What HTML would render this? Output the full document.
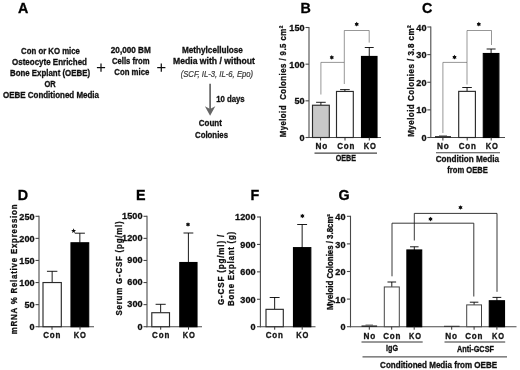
<!DOCTYPE html>
<html><head><meta charset="utf-8"><title>Figure</title>
<style>
html,body{margin:0;padding:0;background:#fff;}
body{width:520px;height:370px;overflow:hidden;font-family:"Liberation Sans",sans-serif;}
svg{display:block;}
svg text{font-family:"Liberation Sans",sans-serif;}
</style></head>
<body>
<svg width="520" height="370" viewBox="0 0 520 370">
<defs><filter id="soft" x="0" y="0" width="520" height="370" filterUnits="userSpaceOnUse"><feGaussianBlur stdDeviation="0.3"/></filter></defs>
<rect x="0" y="0" width="520" height="370" fill="#ffffff"/>
<g filter="url(#soft)">
<rect x="0" y="0" width="520" height="370" fill="#ffffff"/>
<text x="18.1" y="12.6" font-size="14.3" text-anchor="start" fill="#000" font-weight="bold" stroke="#000" stroke-width="0.3" >A</text>
<text x="300.5" y="12.6" font-size="14.3" text-anchor="start" fill="#000" font-weight="bold" stroke="#000" stroke-width="0.3" >B</text>
<text x="422.1" y="12.6" font-size="14.3" text-anchor="start" fill="#000" font-weight="bold" stroke="#000" stroke-width="0.3" >C</text>
<text x="17.8" y="200" font-size="14.3" text-anchor="start" fill="#000" font-weight="bold" stroke="#000" stroke-width="0.3" >D</text>
<text x="135.9" y="200" font-size="14.3" text-anchor="start" fill="#000" font-weight="bold" stroke="#000" stroke-width="0.3" >E</text>
<text x="250.4" y="200" font-size="14.3" text-anchor="start" fill="#000" font-weight="bold" stroke="#000" stroke-width="0.3" >F</text>
<text x="338.6" y="200" font-size="14.3" text-anchor="start" fill="#000" font-weight="bold" stroke="#000" stroke-width="0.3" >G</text>
<text x="50.5" y="54.2" font-size="8.4" text-anchor="middle" fill="#111" font-weight="bold" stroke="#111" stroke-width="0.3" textLength="58.8" lengthAdjust="spacingAndGlyphs" >Con or KO mice</text>
<text x="49.5" y="65.2" font-size="8.4" text-anchor="middle" fill="#111" font-weight="bold" stroke="#111" stroke-width="0.3" textLength="75" lengthAdjust="spacingAndGlyphs" >Osteocyte Enriched</text>
<text x="50" y="76.2" font-size="8.4" text-anchor="middle" fill="#111" font-weight="bold" stroke="#111" stroke-width="0.3" textLength="80" lengthAdjust="spacingAndGlyphs" >Bone Explant (OEBE)</text>
<text x="50.1" y="87.2" font-size="8.4" text-anchor="middle" fill="#111" font-weight="bold" stroke="#111" stroke-width="0.3" textLength="11.2" lengthAdjust="spacingAndGlyphs" >OR</text>
<text x="51" y="98.4" font-size="8.4" text-anchor="middle" fill="#111" font-weight="bold" stroke="#111" stroke-width="0.3" textLength="96" lengthAdjust="spacingAndGlyphs" >OEBE Conditioned Media</text>
<line x1="96.9" y1="67.6" x2="105.1" y2="67.6" stroke="#111" stroke-width="1.25" />
<line x1="101.0" y1="63.4" x2="101.0" y2="71.8" stroke="#111" stroke-width="1.25" />
<line x1="157.20000000000002" y1="67.6" x2="165.4" y2="67.6" stroke="#111" stroke-width="1.25" />
<line x1="161.3" y1="63.4" x2="161.3" y2="71.8" stroke="#111" stroke-width="1.25" />
<text x="130.8" y="52.8" font-size="8.4" text-anchor="middle" fill="#111" font-weight="bold" stroke="#111" stroke-width="0.3" textLength="40" lengthAdjust="spacingAndGlyphs" >20,000 BM</text>
<text x="130.8" y="63.8" font-size="8.4" text-anchor="middle" fill="#111" font-weight="bold" stroke="#111" stroke-width="0.3" textLength="37.5" lengthAdjust="spacingAndGlyphs" >Cells from</text>
<text x="131.8" y="74.8" font-size="8.4" text-anchor="middle" fill="#111" font-weight="bold" stroke="#111" stroke-width="0.3" textLength="35" lengthAdjust="spacingAndGlyphs" >Con mice</text>
<text x="212.4" y="53.2" font-size="8.4" text-anchor="middle" fill="#111" font-weight="bold" stroke="#111" stroke-width="0.3" textLength="61" lengthAdjust="spacingAndGlyphs" >Methylcellulose</text>
<text x="214" y="63.8" font-size="8.4" text-anchor="middle" fill="#111" font-weight="bold" stroke="#111" stroke-width="0.3" textLength="82" lengthAdjust="spacingAndGlyphs" >Media with / without</text>
<text x="216.9" y="76.8" font-size="8.3" text-anchor="middle" fill="#3a3a3a" font-style="italic" textLength="72.5" lengthAdjust="spacingAndGlyphs" stroke="#3a3a3a" stroke-width="0.22">(SCF, IL-3, IL-6, Epo)</text>
<line x1="210.1" y1="83.7" x2="210.1" y2="109" stroke="#666" stroke-width="1.7" />
<path d="M204.9 106.2 L210.1 108.9 L215.3 106.2 L210.1 115.7 Z" fill="#666"/>
<text x="216.2" y="101.8" font-size="8.4" text-anchor="start" fill="#111" font-weight="bold" stroke="#111" stroke-width="0.3" textLength="28.5" lengthAdjust="spacingAndGlyphs" >10 days</text>
<text x="210.3" y="126.4" font-size="8.4" text-anchor="middle" fill="#111" font-weight="bold" stroke="#111" stroke-width="0.3" textLength="23" lengthAdjust="spacingAndGlyphs" >Count</text>
<text x="211.5" y="137.8" font-size="8.4" text-anchor="middle" fill="#111" font-weight="bold" stroke="#111" stroke-width="0.3" textLength="33" lengthAdjust="spacingAndGlyphs" >Colonies</text>
<line x1="309" y1="27.0" x2="309" y2="138.0" stroke="#4a4a4a" stroke-width="1.1" />
<line x1="308.5" y1="137.5" x2="381" y2="137.5" stroke="#4a4a4a" stroke-width="1.1" />
<line x1="305.5" y1="137.5" x2="309" y2="137.5" stroke="#4a4a4a" stroke-width="1.1" />
<text x="304.8" y="141.1" font-size="9.1" text-anchor="end" fill="#111" font-weight="bold" stroke="#111" stroke-width="0.3" letter-spacing="0.15">0</text>
<line x1="305.5" y1="100.83333333333334" x2="309" y2="100.83333333333334" stroke="#4a4a4a" stroke-width="1.1" />
<text x="304.8" y="104.43333333333334" font-size="9.1" text-anchor="end" fill="#111" font-weight="bold" stroke="#111" stroke-width="0.3" letter-spacing="0.15">50</text>
<line x1="305.5" y1="64.16666666666667" x2="309" y2="64.16666666666667" stroke="#4a4a4a" stroke-width="1.1" />
<text x="304.8" y="67.76666666666667" font-size="9.1" text-anchor="end" fill="#111" font-weight="bold" stroke="#111" stroke-width="0.3" letter-spacing="0.15">100</text>
<line x1="305.5" y1="27.5" x2="309" y2="27.5" stroke="#4a4a4a" stroke-width="1.1" />
<text x="304.8" y="31.1" font-size="9.1" text-anchor="end" fill="#111" font-weight="bold" stroke="#111" stroke-width="0.3" letter-spacing="0.15">150</text>
<line x1="320.9" y1="102.3" x2="320.9" y2="105.23333333333333" stroke="#000" stroke-width="0.9" />
<line x1="316.094" y1="102.3" x2="325.70599999999996" y2="102.3" stroke="#000" stroke-width="0.9" />
<rect x="312.5" y="105.23333333333333" width="16.80000000000001" height="32.266666666666666" fill="#c8c8c8" stroke="#2a2a2a" stroke-width="1.15"/>
<line x1="344.9" y1="89.6" x2="344.9" y2="91.44666666666666" stroke="#000" stroke-width="0.9" />
<line x1="340.094" y1="89.6" x2="349.70599999999996" y2="89.6" stroke="#000" stroke-width="0.9" />
<rect x="336.5" y="91.44666666666666" width="16.80000000000001" height="46.05333333333334" fill="#fff" stroke="#2a2a2a" stroke-width="1.15"/>
<line x1="369.25" y1="47.5" x2="369.25" y2="56.46666666666667" stroke="#000" stroke-width="0.9" />
<line x1="364.795" y1="47.5" x2="373.705" y2="47.5" stroke="#000" stroke-width="0.9" />
<rect x="361.5" y="56.46666666666667" width="15.5" height="81.03333333333333" fill="#000" stroke="#000" stroke-width="1.15"/>
<line x1="320.6" y1="137.5" x2="320.6" y2="140.5" stroke="#333" stroke-width="1" />
<line x1="345" y1="137.5" x2="345" y2="140.5" stroke="#333" stroke-width="1" />
<line x1="369.3" y1="137.5" x2="369.3" y2="140.5" stroke="#333" stroke-width="1" />
<path d="M320.9 94.5 V62.4 H344.3 V84 M344.3 62.4 V30.5 H369.2 V42.6" fill="none" stroke="#505050" stroke-width="0.6"/>
<polygon points="331.80,55.05 331.07,56.14 329.76,56.22 330.35,57.40 329.76,58.57 331.07,58.66 331.80,59.75 332.53,58.66 333.84,58.58 333.25,57.40 333.84,56.23 332.53,56.14" fill="#111"/>
<polygon points="356.70,21.85 355.97,22.94 354.66,23.02 355.25,24.20 354.66,25.38 355.97,25.46 356.70,26.55 357.43,25.46 358.74,25.38 358.15,24.20 358.74,23.02 357.43,22.94" fill="#111"/>
<text x="321.8" y="149" font-size="8.4" text-anchor="middle" fill="#111" font-weight="bold" stroke="#111" stroke-width="0.3" textLength="12.7" lengthAdjust="spacingAndGlyphs" letter-spacing="0.9">No</text>
<text x="346.3" y="149" font-size="8.4" text-anchor="middle" fill="#111" font-weight="bold" stroke="#111" stroke-width="0.3" textLength="18.1" lengthAdjust="spacingAndGlyphs" letter-spacing="0.9">Con</text>
<text x="370.3" y="149" font-size="8.4" text-anchor="middle" fill="#111" font-weight="bold" stroke="#111" stroke-width="0.3" textLength="12.9" lengthAdjust="spacingAndGlyphs" letter-spacing="0.9">KO</text>
<line x1="314.5" y1="153.1" x2="377" y2="153.1" stroke="#444" stroke-width="1.1" />
<text x="345.8" y="161.1" font-size="8.8" text-anchor="middle" fill="#111" font-weight="bold" stroke="#111" stroke-width="0.3" textLength="20.3" lengthAdjust="spacingAndGlyphs" >OEBE</text>
<text x="286.2" y="81.3" font-size="9" text-anchor="middle" fill="#111" font-weight="bold" stroke="#111" stroke-width="0.3" textLength="112" lengthAdjust="spacingAndGlyphs" transform="rotate(-90 286.2 81.3)" letter-spacing="0.5" xml:space="preserve">Myeloid  Colonies / 9.5 cm²</text>
<line x1="430.8" y1="26.5" x2="430.8" y2="138.0" stroke="#4a4a4a" stroke-width="1.1" />
<line x1="430.3" y1="137.5" x2="505" y2="137.5" stroke="#4a4a4a" stroke-width="1.1" />
<line x1="427.3" y1="137.5" x2="430.8" y2="137.5" stroke="#4a4a4a" stroke-width="1.1" />
<text x="426.6" y="141.1" font-size="9.1" text-anchor="end" fill="#111" font-weight="bold" stroke="#111" stroke-width="0.3" letter-spacing="0.15">0</text>
<line x1="427.3" y1="109.875" x2="430.8" y2="109.875" stroke="#4a4a4a" stroke-width="1.1" />
<text x="426.6" y="113.475" font-size="9.1" text-anchor="end" fill="#111" font-weight="bold" stroke="#111" stroke-width="0.3" letter-spacing="0.15">10</text>
<line x1="427.3" y1="82.25" x2="430.8" y2="82.25" stroke="#4a4a4a" stroke-width="1.1" />
<text x="426.6" y="85.85" font-size="9.1" text-anchor="end" fill="#111" font-weight="bold" stroke="#111" stroke-width="0.3" letter-spacing="0.15">20</text>
<line x1="427.3" y1="54.625" x2="430.8" y2="54.625" stroke="#4a4a4a" stroke-width="1.1" />
<text x="426.6" y="58.225" font-size="9.1" text-anchor="end" fill="#111" font-weight="bold" stroke="#111" stroke-width="0.3" letter-spacing="0.15">30</text>
<line x1="427.3" y1="27.0" x2="430.8" y2="27.0" stroke="#4a4a4a" stroke-width="1.1" />
<text x="426.6" y="30.6" font-size="9.1" text-anchor="end" fill="#111" font-weight="bold" stroke="#111" stroke-width="0.3" letter-spacing="0.15">40</text>
<rect x="435" y="136.2" width="16" height="1.3" fill="#111"/>
<line x1="439" y1="135.8" x2="447" y2="135.8" stroke="#333" stroke-width="0.7" />
<line x1="467.04999999999995" y1="87.5" x2="467.04999999999995" y2="91.36625000000001" stroke="#000" stroke-width="0.9" />
<line x1="462.27099999999996" y1="87.5" x2="471.82899999999995" y2="87.5" stroke="#000" stroke-width="0.9" />
<rect x="458.7" y="91.36625000000001" width="16.69999999999999" height="46.13374999999999" fill="#fff" stroke="#2a2a2a" stroke-width="1.15"/>
<line x1="491.1" y1="49" x2="491.1" y2="53.52000000000001" stroke="#000" stroke-width="0.9" />
<line x1="486.61800000000005" y1="49" x2="495.582" y2="49" stroke="#000" stroke-width="0.9" />
<rect x="483.3" y="53.52000000000001" width="15.599999999999966" height="83.97999999999999" fill="#000" stroke="#000" stroke-width="1.15"/>
<line x1="442.9" y1="137.5" x2="442.9" y2="140.5" stroke="#333" stroke-width="1" />
<line x1="467.2" y1="137.5" x2="467.2" y2="140.5" stroke="#333" stroke-width="1" />
<line x1="491.2" y1="137.5" x2="491.2" y2="140.5" stroke="#333" stroke-width="1" />
<path d="M442.9 133 V62.4 H467 V84.5 M467 62.4 V30.5 H491.5 V45" fill="none" stroke="#505050" stroke-width="0.6"/>
<polygon points="454.50,54.85 453.77,55.94 452.46,56.02 453.05,57.20 452.46,58.38 453.77,58.46 454.50,59.55 455.23,58.46 456.54,58.38 455.95,57.20 456.54,56.03 455.23,55.94" fill="#111"/>
<polygon points="478.80,21.85 478.07,22.94 476.76,23.02 477.35,24.20 476.76,25.38 478.07,25.46 478.80,26.55 479.53,25.46 480.84,25.38 480.25,24.20 480.84,23.02 479.53,22.94" fill="#111"/>
<text x="443.3" y="149.3" font-size="8.4" text-anchor="middle" fill="#111" font-weight="bold" stroke="#111" stroke-width="0.3" textLength="12.7" lengthAdjust="spacingAndGlyphs" letter-spacing="0.9">No</text>
<text x="467.8" y="149.3" font-size="8.4" text-anchor="middle" fill="#111" font-weight="bold" stroke="#111" stroke-width="0.3" textLength="18.1" lengthAdjust="spacingAndGlyphs" letter-spacing="0.9">Con</text>
<text x="492.3" y="149.3" font-size="8.4" text-anchor="middle" fill="#111" font-weight="bold" stroke="#111" stroke-width="0.3" textLength="12.9" lengthAdjust="spacingAndGlyphs" letter-spacing="0.9">KO</text>
<line x1="436" y1="152.8" x2="500" y2="152.8" stroke="#444" stroke-width="1.1" />
<text x="467.4" y="161.8" font-size="8.8" text-anchor="middle" fill="#111" font-weight="bold" stroke="#111" stroke-width="0.3" textLength="63.5" lengthAdjust="spacingAndGlyphs" >Condition Media</text>
<text x="467.6" y="172.8" font-size="8.8" text-anchor="middle" fill="#111" font-weight="bold" stroke="#111" stroke-width="0.3" textLength="40.5" lengthAdjust="spacingAndGlyphs" >from OEBE</text>
<text x="414.0" y="80.8" font-size="9" text-anchor="middle" fill="#111" font-weight="bold" stroke="#111" stroke-width="0.3" textLength="112" lengthAdjust="spacingAndGlyphs" transform="rotate(-90 414.0 80.8)" letter-spacing="0.5">Myeloid Colonies / 3.8 cm²</text>
<line x1="39" y1="215.8" x2="39" y2="327.2" stroke="#4a4a4a" stroke-width="1.1" />
<line x1="38.5" y1="326.7" x2="94" y2="326.7" stroke="#4a4a4a" stroke-width="1.1" />
<line x1="35.5" y1="326.7" x2="39" y2="326.7" stroke="#4a4a4a" stroke-width="1.1" />
<text x="34.8" y="330.3" font-size="9.1" text-anchor="end" fill="#111" font-weight="bold" stroke="#111" stroke-width="0.3" letter-spacing="0.15">0</text>
<line x1="35.5" y1="304.62" x2="39" y2="304.62" stroke="#4a4a4a" stroke-width="1.1" />
<text x="34.8" y="308.22" font-size="9.1" text-anchor="end" fill="#111" font-weight="bold" stroke="#111" stroke-width="0.3" letter-spacing="0.15">50</text>
<line x1="35.5" y1="282.53999999999996" x2="39" y2="282.53999999999996" stroke="#4a4a4a" stroke-width="1.1" />
<text x="34.8" y="286.14" font-size="9.1" text-anchor="end" fill="#111" font-weight="bold" stroke="#111" stroke-width="0.3" letter-spacing="0.15">100</text>
<line x1="35.5" y1="260.46" x2="39" y2="260.46" stroke="#4a4a4a" stroke-width="1.1" />
<text x="34.8" y="264.06" font-size="9.1" text-anchor="end" fill="#111" font-weight="bold" stroke="#111" stroke-width="0.3" letter-spacing="0.15">150</text>
<line x1="35.5" y1="238.38" x2="39" y2="238.38" stroke="#4a4a4a" stroke-width="1.1" />
<text x="34.8" y="241.98" font-size="9.1" text-anchor="end" fill="#111" font-weight="bold" stroke="#111" stroke-width="0.3" letter-spacing="0.15">200</text>
<line x1="35.5" y1="216.29999999999998" x2="39" y2="216.29999999999998" stroke="#4a4a4a" stroke-width="1.1" />
<text x="34.8" y="219.89999999999998" font-size="9.1" text-anchor="end" fill="#111" font-weight="bold" stroke="#111" stroke-width="0.3" letter-spacing="0.15">250</text>
<line x1="52.15" y1="271.3" x2="52.15" y2="282.53999999999996" stroke="#000" stroke-width="0.9" />
<line x1="46.939" y1="271.3" x2="57.361" y2="271.3" stroke="#000" stroke-width="0.9" />
<rect x="43.0" y="282.53999999999996" width="18.299999999999997" height="44.160000000000025" fill="#fff" stroke="#2a2a2a" stroke-width="1.15"/>
<line x1="79.85" y1="233.2" x2="79.85" y2="242.796" stroke="#000" stroke-width="0.9" />
<line x1="74.80099999999999" y1="233.2" x2="84.899" y2="233.2" stroke="#000" stroke-width="0.9" />
<rect x="71.0" y="242.796" width="17.700000000000003" height="83.904" fill="#000" stroke="#000" stroke-width="1.15"/>
<line x1="52" y1="326.7" x2="52" y2="329.7" stroke="#333" stroke-width="1" />
<line x1="80" y1="326.7" x2="80" y2="329.7" stroke="#333" stroke-width="1" />
<polygon points="73.60,228.30 72.92,229.97 71.13,230.10 72.51,231.26 72.07,233.00 73.60,232.05 75.13,233.00 74.69,231.26 76.07,230.10 74.28,229.97" fill="#111"/>
<text x="52.3" y="338.3" font-size="8.4" text-anchor="middle" fill="#111" font-weight="bold" stroke="#111" stroke-width="0.3" textLength="18.1" lengthAdjust="spacingAndGlyphs" letter-spacing="0.9">Con</text>
<text x="80.3" y="338.3" font-size="8.4" text-anchor="middle" fill="#111" font-weight="bold" stroke="#111" stroke-width="0.3" textLength="12.9" lengthAdjust="spacingAndGlyphs" letter-spacing="0.9">KO</text>
<text x="16.6" y="269" font-size="9" text-anchor="middle" fill="#111" font-weight="bold" stroke="#111" stroke-width="0.3" textLength="130.5" lengthAdjust="spacingAndGlyphs" transform="rotate(-90 16.6 269)" letter-spacing="0.9">mRNA % Relative Expression</text>
<line x1="147" y1="215.8" x2="147" y2="327.2" stroke="#4a4a4a" stroke-width="1.1" />
<line x1="146.5" y1="326.7" x2="202" y2="326.7" stroke="#4a4a4a" stroke-width="1.1" />
<line x1="143.5" y1="326.7" x2="147" y2="326.7" stroke="#4a4a4a" stroke-width="1.1" />
<text x="142.8" y="329.5" font-size="9.1" text-anchor="end" fill="#111" font-weight="bold" stroke="#111" stroke-width="0.3" letter-spacing="0.15">0</text>
<line x1="143.5" y1="304.62" x2="147" y2="304.62" stroke="#4a4a4a" stroke-width="1.1" />
<text x="142.8" y="307.42" font-size="9.1" text-anchor="end" fill="#111" font-weight="bold" stroke="#111" stroke-width="0.3" letter-spacing="0.15">300</text>
<line x1="143.5" y1="282.53999999999996" x2="147" y2="282.53999999999996" stroke="#4a4a4a" stroke-width="1.1" />
<text x="142.8" y="285.34" font-size="9.1" text-anchor="end" fill="#111" font-weight="bold" stroke="#111" stroke-width="0.3" letter-spacing="0.15">600</text>
<line x1="143.5" y1="260.46" x2="147" y2="260.46" stroke="#4a4a4a" stroke-width="1.1" />
<text x="142.8" y="263.26" font-size="9.1" text-anchor="end" fill="#111" font-weight="bold" stroke="#111" stroke-width="0.3" letter-spacing="0.15">900</text>
<line x1="143.5" y1="238.38" x2="147" y2="238.38" stroke="#4a4a4a" stroke-width="1.1" />
<text x="142.8" y="241.18" font-size="9.1" text-anchor="end" fill="#111" font-weight="bold" stroke="#111" stroke-width="0.3" letter-spacing="0.15">1200</text>
<line x1="143.5" y1="216.29999999999998" x2="147" y2="216.29999999999998" stroke="#4a4a4a" stroke-width="1.1" />
<text x="142.8" y="219.1" font-size="9.1" text-anchor="end" fill="#111" font-weight="bold" stroke="#111" stroke-width="0.3" letter-spacing="0.15">1500</text>
<line x1="160.65" y1="304.3" x2="160.65" y2="312.716" stroke="#000" stroke-width="0.9" />
<line x1="155.601" y1="304.3" x2="165.699" y2="304.3" stroke="#000" stroke-width="0.9" />
<rect x="151.8" y="312.716" width="17.69999999999999" height="13.98399999999998" fill="#fff" stroke="#2a2a2a" stroke-width="1.15"/>
<line x1="188.4" y1="233" x2="188.4" y2="262.5208" stroke="#000" stroke-width="0.9" />
<line x1="183.48600000000002" y1="233" x2="193.314" y2="233" stroke="#000" stroke-width="0.9" />
<rect x="179.8" y="262.5208" width="17.19999999999999" height="64.17919999999998" fill="#000" stroke="#000" stroke-width="1.15"/>
<line x1="160.7" y1="326.7" x2="160.7" y2="329.7" stroke="#333" stroke-width="1" />
<line x1="188.5" y1="326.7" x2="188.5" y2="329.7" stroke="#333" stroke-width="1" />
<polygon points="188.00,222.15 187.28,223.24 185.96,223.32 186.55,224.50 185.96,225.68 187.28,225.76 188.00,226.85 188.72,225.76 190.04,225.68 189.45,224.50 190.04,223.32 188.72,223.24" fill="#111"/>
<text x="161.1" y="338.3" font-size="8.4" text-anchor="middle" fill="#111" font-weight="bold" stroke="#111" stroke-width="0.3" textLength="18.1" lengthAdjust="spacingAndGlyphs" letter-spacing="0.9">Con</text>
<text x="189.1" y="338.3" font-size="8.4" text-anchor="middle" fill="#111" font-weight="bold" stroke="#111" stroke-width="0.3" textLength="12.9" lengthAdjust="spacingAndGlyphs" letter-spacing="0.9">KO</text>
<text x="122.1" y="268" font-size="9" text-anchor="middle" fill="#111" font-weight="bold" stroke="#111" stroke-width="0.3" textLength="95" lengthAdjust="spacingAndGlyphs" transform="rotate(-90 122.1 268)" letter-spacing="0.9">Serum G-CSF (pg/ml)</text>
<line x1="260.4" y1="216.5" x2="260.4" y2="327.2" stroke="#4a4a4a" stroke-width="1.1" />
<line x1="259.9" y1="326.7" x2="315.5" y2="326.7" stroke="#4a4a4a" stroke-width="1.1" />
<line x1="257.0" y1="326.7" x2="260.4" y2="326.7" stroke="#4a4a4a" stroke-width="1.1" />
<text x="255.79999999999998" y="330.0" font-size="9.1" text-anchor="end" fill="#111" font-weight="bold" stroke="#111" stroke-width="0.3" letter-spacing="0.15">0</text>
<line x1="257.0" y1="299.275" x2="260.4" y2="299.275" stroke="#4a4a4a" stroke-width="1.1" />
<text x="255.79999999999998" y="302.575" font-size="9.1" text-anchor="end" fill="#111" font-weight="bold" stroke="#111" stroke-width="0.3" letter-spacing="0.15">300</text>
<line x1="257.0" y1="271.84999999999997" x2="260.4" y2="271.84999999999997" stroke="#4a4a4a" stroke-width="1.1" />
<text x="255.79999999999998" y="275.15" font-size="9.1" text-anchor="end" fill="#111" font-weight="bold" stroke="#111" stroke-width="0.3" letter-spacing="0.15">600</text>
<line x1="257.0" y1="244.42499999999998" x2="260.4" y2="244.42499999999998" stroke="#4a4a4a" stroke-width="1.1" />
<text x="255.79999999999998" y="247.725" font-size="9.1" text-anchor="end" fill="#111" font-weight="bold" stroke="#111" stroke-width="0.3" letter-spacing="0.15">900</text>
<line x1="257.0" y1="217.0" x2="260.4" y2="217.0" stroke="#4a4a4a" stroke-width="1.1" />
<text x="255.79999999999998" y="220.3" font-size="9.1" text-anchor="end" fill="#111" font-weight="bold" stroke="#111" stroke-width="0.3" letter-spacing="0.15">1200</text>
<line x1="274.65" y1="297.5" x2="274.65" y2="309.3308333333333" stroke="#000" stroke-width="0.9" />
<line x1="269.70899999999995" y1="297.5" x2="279.591" y2="297.5" stroke="#000" stroke-width="0.9" />
<rect x="266.0" y="309.3308333333333" width="17.30000000000001" height="17.369166666666672" fill="#fff" stroke="#2a2a2a" stroke-width="1.15"/>
<line x1="302.15" y1="224.5" x2="302.15" y2="247.6245833333333" stroke="#000" stroke-width="0.9" />
<line x1="297.20899999999995" y1="224.5" x2="307.091" y2="224.5" stroke="#000" stroke-width="0.9" />
<rect x="293.5" y="247.6245833333333" width="17.30000000000001" height="79.07541666666668" fill="#000" stroke="#000" stroke-width="1.15"/>
<line x1="274.7" y1="326.7" x2="274.7" y2="329.7" stroke="#333" stroke-width="1" />
<line x1="302.2" y1="326.7" x2="302.2" y2="329.7" stroke="#333" stroke-width="1" />
<polygon points="302.40,213.65 301.67,214.74 300.36,214.82 300.95,216.00 300.36,217.18 301.67,217.26 302.40,218.35 303.12,217.26 304.44,217.18 303.85,216.00 304.44,214.82 303.12,214.74" fill="#111"/>
<text x="274.8" y="338.3" font-size="8.4" text-anchor="middle" fill="#111" font-weight="bold" stroke="#111" stroke-width="0.3" textLength="18.1" lengthAdjust="spacingAndGlyphs" letter-spacing="0.9">Con</text>
<text x="302.8" y="338.3" font-size="8.4" text-anchor="middle" fill="#111" font-weight="bold" stroke="#111" stroke-width="0.3" textLength="12.9" lengthAdjust="spacingAndGlyphs" letter-spacing="0.9">KO</text>
<text x="223.5" y="269.5" font-size="9" text-anchor="middle" fill="#111" font-weight="bold" stroke="#111" stroke-width="0.3" textLength="71" lengthAdjust="spacingAndGlyphs" transform="rotate(-90 223.5 269.5)" letter-spacing="0.9">G-CSF (pg/ml) /</text>
<text x="234.3" y="268.5" font-size="9" text-anchor="middle" fill="#111" font-weight="bold" stroke="#111" stroke-width="0.3" textLength="75" lengthAdjust="spacingAndGlyphs" transform="rotate(-90 234.3 268.5)" letter-spacing="0.9">Bone Explant (g)</text>
<line x1="350.5" y1="215.8" x2="350.5" y2="327.2" stroke="#4a4a4a" stroke-width="1.1" />
<line x1="350.0" y1="326.7" x2="516.5" y2="326.7" stroke="#4a4a4a" stroke-width="1.1" />
<line x1="346.9" y1="326.7" x2="350.5" y2="326.7" stroke="#4a4a4a" stroke-width="1.1" />
<text x="345.6" y="330.3" font-size="9.1" text-anchor="end" fill="#111" font-weight="bold" stroke="#111" stroke-width="0.3" letter-spacing="0.15">0</text>
<line x1="346.9" y1="299.09999999999997" x2="350.5" y2="299.09999999999997" stroke="#4a4a4a" stroke-width="1.1" />
<text x="345.6" y="302.7" font-size="9.1" text-anchor="end" fill="#111" font-weight="bold" stroke="#111" stroke-width="0.3" letter-spacing="0.15">10</text>
<line x1="346.9" y1="271.5" x2="350.5" y2="271.5" stroke="#4a4a4a" stroke-width="1.1" />
<text x="345.6" y="275.1" font-size="9.1" text-anchor="end" fill="#111" font-weight="bold" stroke="#111" stroke-width="0.3" letter-spacing="0.15">20</text>
<line x1="346.9" y1="243.89999999999998" x2="350.5" y2="243.89999999999998" stroke="#4a4a4a" stroke-width="1.1" />
<text x="345.6" y="247.49999999999997" font-size="9.1" text-anchor="end" fill="#111" font-weight="bold" stroke="#111" stroke-width="0.3" letter-spacing="0.15">30</text>
<line x1="346.9" y1="216.29999999999998" x2="350.5" y2="216.29999999999998" stroke="#4a4a4a" stroke-width="1.1" />
<text x="345.6" y="219.89999999999998" font-size="9.1" text-anchor="end" fill="#111" font-weight="bold" stroke="#111" stroke-width="0.3" letter-spacing="0.15">40</text>
<rect x="361.5" y="325.5" width="15.6" height="1.2" fill="#111"/>
<line x1="365.5" y1="325.0" x2="373" y2="325.0" stroke="#333" stroke-width="0.7" />
<line x1="391.8" y1="282" x2="391.8" y2="286.95599999999996" stroke="#000" stroke-width="0.9" />
<line x1="387.48" y1="282" x2="396.12" y2="282" stroke="#000" stroke-width="0.9" />
<rect x="384.3" y="286.95599999999996" width="15.0" height="39.74400000000003" fill="#fff" stroke="#444" stroke-width="1.0"/>
<line x1="414.29999999999995" y1="246.8" x2="414.29999999999995" y2="249.97199999999998" stroke="#000" stroke-width="0.9" />
<line x1="410.03399999999993" y1="246.8" x2="418.566" y2="246.8" stroke="#000" stroke-width="0.9" />
<rect x="406.9" y="249.97199999999998" width="14.800000000000011" height="76.72800000000001" fill="#000" stroke="#000" stroke-width="1.15"/>
<rect x="444" y="325.8" width="15.6" height="0.9" fill="#222"/>
<line x1="474.1" y1="302.2" x2="474.1" y2="304.89599999999996" stroke="#000" stroke-width="0.9" />
<line x1="469.834" y1="302.2" x2="478.36600000000004" y2="302.2" stroke="#000" stroke-width="0.9" />
<rect x="466.7" y="304.89599999999996" width="14.800000000000011" height="21.80400000000003" fill="#fff" stroke="#444" stroke-width="1.0"/>
<line x1="496.9" y1="297.4" x2="496.9" y2="300.756" stroke="#000" stroke-width="0.9" />
<line x1="492.52599999999995" y1="297.4" x2="501.274" y2="297.4" stroke="#000" stroke-width="0.9" />
<rect x="489.3" y="300.756" width="15.199999999999989" height="25.944000000000017" fill="#000" stroke="#000" stroke-width="1.15"/>
<line x1="369.3" y1="326.7" x2="369.3" y2="329.7" stroke="#333" stroke-width="1" />
<line x1="391.7" y1="326.7" x2="391.7" y2="329.7" stroke="#333" stroke-width="1" />
<line x1="414.2" y1="326.7" x2="414.2" y2="329.7" stroke="#333" stroke-width="1" />
<line x1="451.7" y1="326.7" x2="451.7" y2="329.7" stroke="#333" stroke-width="1" />
<line x1="474.1" y1="326.7" x2="474.1" y2="329.7" stroke="#333" stroke-width="1" />
<line x1="496.9" y1="326.7" x2="496.9" y2="329.7" stroke="#333" stroke-width="1" />
<path d="M392 276.3 V223.2 H473.8 V296.5 M414.3 240.5 V213.4 H497 V291.8" fill="none" stroke="#222" stroke-width="0.9"/>
<polygon points="430.50,216.75 429.77,217.84 428.46,217.92 429.05,219.10 428.46,220.28 429.77,220.36 430.50,221.45 431.23,220.36 432.54,220.28 431.95,219.10 432.54,217.92 431.23,217.84" fill="#111"/>
<polygon points="460.50,205.15 459.77,206.24 458.46,206.32 459.05,207.50 458.46,208.68 459.77,208.76 460.50,209.85 461.23,208.76 462.54,208.68 461.95,207.50 462.54,206.32 461.23,206.24" fill="#111"/>
<text x="369.75" y="338.8" font-size="8.4" text-anchor="middle" fill="#111" font-weight="bold" stroke="#111" stroke-width="0.3" textLength="12.7" lengthAdjust="spacingAndGlyphs" letter-spacing="0.9">No</text>
<text x="392.25" y="338.8" font-size="8.4" text-anchor="middle" fill="#111" font-weight="bold" stroke="#111" stroke-width="0.3" textLength="18.2" lengthAdjust="spacingAndGlyphs" letter-spacing="0.9">Con</text>
<text x="415.45" y="338.8" font-size="8.4" text-anchor="middle" fill="#111" font-weight="bold" stroke="#111" stroke-width="0.3" textLength="12.7" lengthAdjust="spacingAndGlyphs" letter-spacing="0.9">KO</text>
<text x="451.65" y="338.8" font-size="8.4" text-anchor="middle" fill="#111" font-weight="bold" stroke="#111" stroke-width="0.3" textLength="12.7" lengthAdjust="spacingAndGlyphs" letter-spacing="0.9">No</text>
<text x="474.25" y="338.8" font-size="8.4" text-anchor="middle" fill="#111" font-weight="bold" stroke="#111" stroke-width="0.3" textLength="18.2" lengthAdjust="spacingAndGlyphs" letter-spacing="0.9">Con</text>
<text x="498.45" y="338.8" font-size="8.4" text-anchor="middle" fill="#111" font-weight="bold" stroke="#111" stroke-width="0.3" textLength="12.7" lengthAdjust="spacingAndGlyphs" letter-spacing="0.9">KO</text>
<line x1="361.5" y1="342" x2="422.7" y2="342" stroke="#333" stroke-width="1" />
<line x1="444.5" y1="342" x2="505.2" y2="342" stroke="#333" stroke-width="1" />
<text x="392" y="351.3" font-size="8.4" text-anchor="middle" fill="#111" font-weight="bold" stroke="#111" stroke-width="0.3" textLength="12" lengthAdjust="spacingAndGlyphs" >IgG</text>
<text x="475.5" y="351.6" font-size="8.4" text-anchor="middle" fill="#111" font-weight="bold" stroke="#111" stroke-width="0.3" textLength="37" lengthAdjust="spacingAndGlyphs" >Anti-GCSF</text>
<line x1="362.5" y1="356.9" x2="507" y2="356.9" stroke="#333" stroke-width="1" />
<text x="438.6" y="367.8" font-size="8.4" text-anchor="middle" fill="#111" font-weight="bold" stroke="#111" stroke-width="0.3" textLength="117" lengthAdjust="spacingAndGlyphs" >Conditioned Media from OEBE</text>
<text x="333.4" y="262" font-size="8.4" text-anchor="middle" fill="#111" font-weight="bold" stroke="#111" stroke-width="0.3" textLength="96" lengthAdjust="spacingAndGlyphs" transform="rotate(-90 333.4 262)" >Myeloid Colonies / 3.8cm²</text>
</g>
</svg>
</body></html>
